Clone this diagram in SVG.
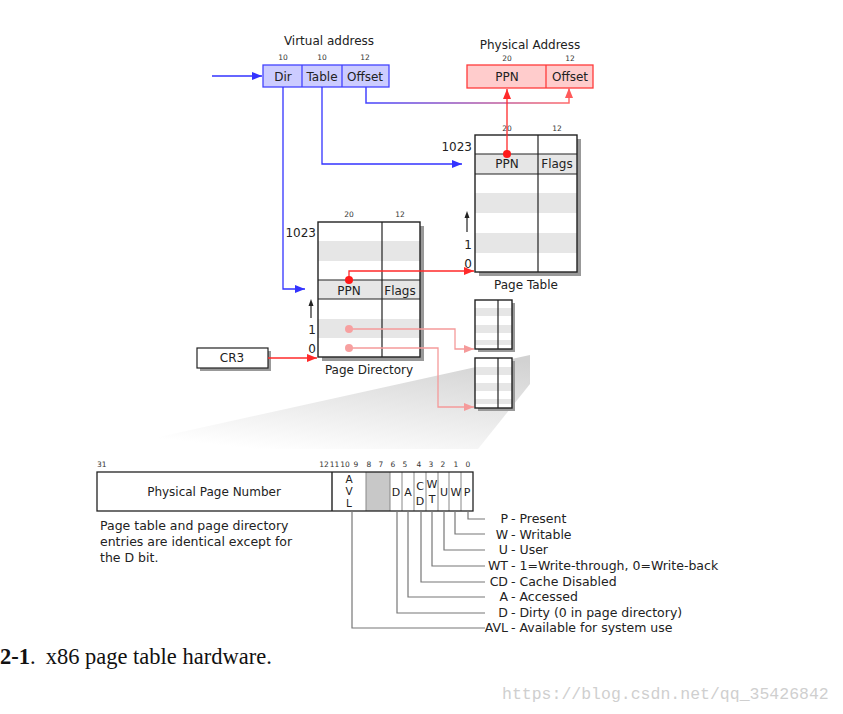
<svg xmlns="http://www.w3.org/2000/svg" width="843" height="714" viewBox="0 0 843 714">
<defs>
<style>
text{font-family:"DejaVu Sans","Noto Sans",sans-serif;fill:#222}
.t10{font-size:10.5px}
.t11{font-size:11px}
.t12{font-size:12px}
.t125{font-size:12.5px}
.bit{font-size:7.5px;fill:#333}
.c{text-anchor:middle}
.e{text-anchor:end}
.gr{fill:#e6e6e6}
.shadow{fill:#999}
.ln{stroke:#222;stroke-width:1.2;fill:none}
.blue{stroke:#3333ff;stroke-width:1.3;fill:none}
.red{stroke:#ff2a2a;stroke-width:1.3;fill:none}
.pink{stroke:#f59a9a;stroke-width:1.3;fill:none}
.lead{stroke:#777;stroke-width:1.2;fill:none}
</style>
<marker id="ab" viewBox="0 0 10 8" refX="10" refY="4" markerWidth="10" markerHeight="8" markerUnits="userSpaceOnUse" orient="auto"><path d="M0,0L10,4L0,8z" fill="#3333ff"/></marker>
<marker id="ar" viewBox="0 0 10 8" refX="10" refY="4" markerWidth="10" markerHeight="8" markerUnits="userSpaceOnUse" orient="auto"><path d="M0,0L10,4L0,8z" fill="#ff2a2a"/></marker>
<marker id="ap" viewBox="0 0 10 8" refX="10" refY="4" markerWidth="10" markerHeight="8" markerUnits="userSpaceOnUse" orient="auto"><path d="M0,0L10,4L0,8z" fill="#f59a9a"/></marker>
<marker id="aq" viewBox="0 0 10 8" refX="10" refY="4" markerWidth="10" markerHeight="8" markerUnits="userSpaceOnUse" orient="auto"><path d="M0,0L10,4L0,8z" fill="#ff5a5a"/></marker>
<linearGradient id="off" gradientUnits="userSpaceOnUse" x1="366" y1="0" x2="569" y2="0"><stop offset="0" stop-color="#4444ff"/><stop offset="1" stop-color="#ff6a6a"/></linearGradient>
<linearGradient id="wedge" x1="0.85" y1="0" x2="0.35" y2="1"><stop offset="0" stop-color="#d2d2d2"/><stop offset="1" stop-color="#ffffff"/></linearGradient>
</defs>
<rect width="843" height="714" fill="#fff"/>

<!-- wedge -->
<polygon points="105,449 478,449 530,384 530,355" fill="url(#wedge)"/>

<g id="virtual-address">
<text class="t12 c" x="329" y="45">Virtual address</text>
<text class="bit c" x="283" y="60">10</text>
<text class="bit c" x="322" y="60">10</text>
<text class="bit c" x="365" y="60">12</text>
<rect x="263" y="65" width="126" height="22" fill="#ccccff" stroke="#4444ff" stroke-width="1.3"/>
<path d="M302,65V87M342,65V87" stroke="#4444ff" stroke-width="1.3"/>
<text class="t12 c" x="283" y="81">Dir</text>
<text class="t12 c" x="322" y="81">Table</text>
<text class="t12 c" x="365" y="81">Offset</text>
</g>

<g id="physical-address">
<text class="t12 c" x="530" y="49">Physical Address</text>
<text class="bit c" x="507" y="61">20</text>
<text class="bit c" x="570" y="61">12</text>
<rect x="467" y="65" width="126" height="23" fill="#ffcccc" stroke="#ff3b3b" stroke-width="1.3"/>
<path d="M546,65V88" stroke="#ff3b3b" stroke-width="1.3"/>
<text class="t12 c" x="507" y="81">PPN</text>
<text class="t12 c" x="570" y="81">Offset</text>
</g>

<g id="page-table">
<rect class="shadow" x="479" y="139" width="102" height="137"/>
<rect x="475" y="135" width="102" height="137" fill="#fff"/>
<rect class="gr" x="475" y="154" width="102" height="20"/>
<rect class="gr" x="475" y="193" width="102" height="20"/>
<rect class="gr" x="475" y="233" width="102" height="20"/>
<path class="ln" d="M475,154H577M475,174H577M538,135V272"/>
<rect x="475" y="135" width="102" height="137" fill="none" stroke="#222" stroke-width="1.4"/>
<text class="t12 c" x="507" y="168">PPN</text>
<text class="t12 c" x="557" y="168">Flags</text>
<text class="bit c" x="507" y="131">20</text>
<text class="bit c" x="557" y="131">12</text>
<text class="t12 e" x="472" y="151">1023</text>
<path class="ln" d="M467,232V216"/><path d="M464.5,218L467,211L469.5,218z" fill="#222"/>
<text class="t12 e" x="472" y="249">1</text>
<text class="t12 e" x="472" y="268">0</text>
<text class="t12 c" x="526" y="289">Page Table</text>
</g>

<g id="page-directory">
<rect class="shadow" x="322" y="226" width="102" height="135"/>
<rect x="318" y="222" width="102" height="135" fill="#fff"/>
<rect class="gr" x="318" y="241" width="102" height="20"/>
<rect class="gr" x="318" y="280" width="102" height="19"/>
<rect class="gr" x="318" y="319" width="102" height="19"/>
<path class="ln" d="M318,280H420M318,299H420M382,222V357"/>
<rect x="318" y="222" width="102" height="135" fill="none" stroke="#222" stroke-width="1.4"/>
<text class="t12 c" x="349" y="295">PPN</text>
<text class="t12 c" x="400" y="295">Flags</text>
<text class="bit c" x="349" y="217">20</text>
<text class="bit c" x="400" y="217">12</text>
<text class="t12 e" x="316" y="237">1023</text>
<path class="ln" d="M311,318V304"/><path d="M308.5,306L311,299L313.5,306z" fill="#222"/>
<text class="t12 e" x="316" y="334">1</text>
<text class="t12 e" x="316" y="353">0</text>
<text class="t12 c" x="369" y="374">Page Directory</text>
</g>

<g id="page-table-small-1">
<rect class="shadow" x="478" y="303" width="37" height="49"/>
<rect x="475" y="300" width="37" height="49" fill="#fff"/>
<rect class="gr" x="475" y="308" width="37" height="8"/>
<rect class="gr" x="475" y="325" width="37" height="8"/>
<rect class="gr" x="475" y="340" width="37" height="5"/>
<path class="ln" d="M498,300V349"/>
<rect x="475" y="300" width="37" height="49" fill="none" stroke="#222" stroke-width="1.4"/>
</g>

<g id="page-table-small-2">
<rect class="shadow" x="478" y="361" width="37" height="50"/>
<rect x="475" y="358" width="37" height="50" fill="#fff"/>
<rect class="gr" x="475" y="367" width="37" height="8"/>
<rect class="gr" x="475" y="383" width="37" height="8"/>
<rect class="gr" x="475" y="399" width="37" height="5"/>
<path class="ln" d="M498,358V408"/>
<rect x="475" y="358" width="37" height="50" fill="none" stroke="#222" stroke-width="1.4"/>
</g>

<g id="cr3">
<rect class="shadow" x="200" y="351" width="71" height="20"/>
<rect x="197" y="348" width="71" height="20" fill="#fff" stroke="#222" stroke-width="1.2"/>
<text class="t12 c" x="232" y="362">CR3</text>
</g>

<g id="connectors">
<path class="blue" d="M212,76H262" marker-end="url(#ab)"/>
<path class="blue" d="M283,87V289H305" marker-end="url(#ab)"/>
<path class="blue" d="M322,87V164H462" marker-end="url(#ab)"/>
<path d="M366,87V103H569V88" stroke="url(#off)" stroke-width="1.5" fill="none" marker-end="url(#aq)"/>
<path class="red" d="M507,154V89" marker-end="url(#ar)"/>
<path class="red" d="M349,280V271H474" marker-end="url(#ar)"/>
<path class="red" d="M268,358H317" marker-end="url(#ar)"/>
<path class="pink" d="M349,329H455V349H474" marker-end="url(#ap)"/>
<path class="pink" d="M349,348H438V407H474" marker-end="url(#ap)"/>
<circle cx="507" cy="154" r="4" fill="#ff1a1a"/>
<circle cx="349" cy="280" r="4" fill="#ff1a1a"/>
<circle cx="349" cy="329" r="4" fill="#f7a0a0"/>
<circle cx="349" cy="348" r="4" fill="#f7a0a0"/>
</g>

<g id="entry-format">
<text class="bit" x="97" y="467">31</text>
<text class="bit c" x="324" y="467">12</text>
<text class="bit c" x="334.5" y="467">11</text>
<text class="bit c" x="345" y="467">10</text>
<text class="bit c" x="356" y="467">9</text>
<text class="bit c" x="369" y="467">8</text>
<text class="bit c" x="381" y="467">7</text>
<text class="bit c" x="393" y="467">6</text>
<text class="bit c" x="405" y="467">5</text>
<text class="bit c" x="419" y="467">4</text>
<text class="bit c" x="431" y="467">3</text>
<text class="bit c" x="443" y="467">2</text>
<text class="bit c" x="456" y="467">1</text>
<text class="bit c" x="468" y="467">0</text>
<rect x="97" y="472" width="376" height="39" fill="#fff"/>
<rect x="366" y="472" width="24" height="39" fill="#c8c8c8"/>
<path d="M332,472V511M366,472V511M390,472V511M402,472V511M414,472V511M426,472V511M438,472V511M449,472V511M461,472V511" stroke="#888" stroke-width="1"/>
<rect x="97" y="472" width="376" height="39" fill="none" stroke="#222" stroke-width="1.3"/>
<path d="M332,472V511" stroke="#222" stroke-width="1.2"/>
<text class="t12 c" x="214" y="496">Physical Page Number</text>
<text class="t10 c"><tspan x="349" y="483">A</tspan><tspan x="349" y="495">V</tspan><tspan x="349" y="507">L</tspan></text>
<text class="t11 c" x="396" y="496">D</text>
<text class="t11 c" x="408" y="496">A</text>
<text class="t11 c"><tspan x="420" y="490">C</tspan><tspan x="420" y="505">D</tspan></text>
<text class="t11 c"><tspan x="432" y="488">W</tspan><tspan x="432" y="503">T</tspan></text>
<text class="t11 c" x="444" y="496">U</text>
<text class="t11 c" x="456" y="496">W</text>
<text class="t11 c" x="467" y="496">P</text>
<text class="t125" x="100" y="530">Page table and page directory</text>
<text class="t125" x="100" y="546">entries are identical except for</text>
<text class="t125" x="100" y="562">the D bit.</text>
</g>

<g id="legend">
<path class="lead" d="M468,511V519H485M455,511V534H485M444,511V550H485M432,511V566H485M421,511V582H485M408,511V597H485M397,511V613H485M352,511V628H485"/>
<text class="t125" y="523"><tspan class="e" x="508">P</tspan><tspan x="511">- Present</tspan></text>
<text class="t125" y="539"><tspan class="e" x="508">W</tspan><tspan x="511">- Writable</tspan></text>
<text class="t125" y="554"><tspan class="e" x="508">U</tspan><tspan x="511">- User</tspan></text>
<text class="t125" y="570"><tspan class="e" x="508">WT</tspan><tspan x="511">- 1=Write-through, 0=Write-back</tspan></text>
<text class="t125" y="586"><tspan class="e" x="508">CD</tspan><tspan x="511">- Cache Disabled</tspan></text>
<text class="t125" y="601"><tspan class="e" x="508">A</tspan><tspan x="511">- Accessed</tspan></text>
<text class="t125" y="617"><tspan class="e" x="508">D</tspan><tspan x="511">- Dirty (0 in page directory)</tspan></text>
<text class="t125" y="632"><tspan class="e" x="508">AVL</tspan><tspan x="511">- Available for system use</tspan></text>
</g>

<text x="0" y="664" style="font-family:'Liberation Serif',serif;font-size:22.5px;fill:#111"><tspan font-weight="bold">2-1</tspan>.<tspan dx="10">x86 page table hardware.</tspan></text>
<text x="502" y="699" style="font-family:'Liberation Mono',monospace;font-size:16.5px;fill:#cfcfcf">https://blog.csdn.net/qq_35426842</text>
</svg>
